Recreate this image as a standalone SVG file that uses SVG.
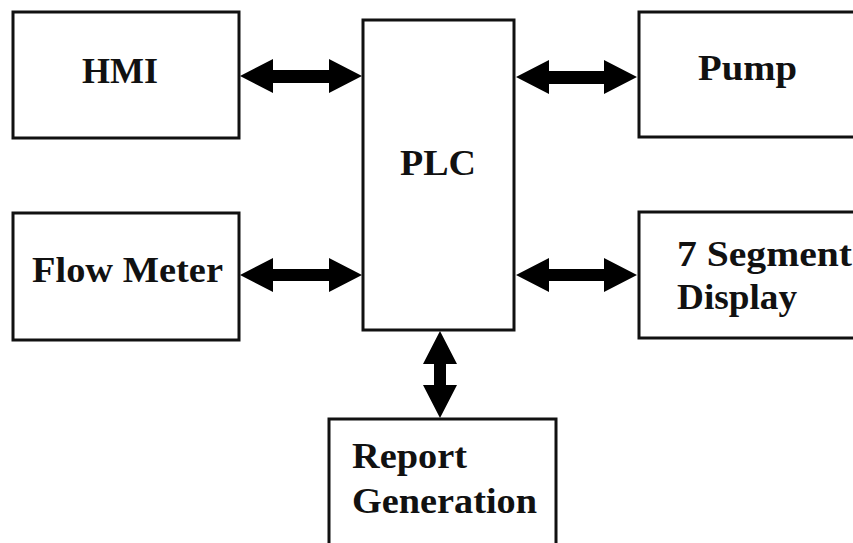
<svg xmlns="http://www.w3.org/2000/svg" width="853" height="543" viewBox="0 0 853 543">
<style>
.box{fill:#fff;stroke:#111;stroke-width:3}
.lbl{font-family:"Liberation Serif","Times New Roman",serif;font-weight:bold;font-size:35px;fill:#111}
.arr{fill:#000}
</style>
<rect x="0" y="0" width="853" height="543" fill="#fff"/>
<g id="hmi"><rect class="box" x="13" y="12" width="226" height="126"/><text class="lbl" x="82" y="83" textLength="76" lengthAdjust="spacingAndGlyphs">HMI</text></g>
<g id="flowmeter"><rect class="box" x="13" y="213" width="226" height="127"/><text class="lbl" x="32" y="282" textLength="191" lengthAdjust="spacingAndGlyphs">Flow Meter</text></g>
<g id="plc"><rect class="box" x="363" y="20" width="151" height="310"/><text class="lbl" x="400" y="175" textLength="76" lengthAdjust="spacingAndGlyphs">PLC</text></g>
<g id="pump"><rect class="box" x="639" y="12" width="230" height="125"/><text class="lbl" x="698" y="80" textLength="99" lengthAdjust="spacingAndGlyphs">Pump</text></g>
<g id="segment"><rect class="box" x="639" y="212" width="230" height="126"/><text class="lbl" x="677" y="266" textLength="175" lengthAdjust="spacingAndGlyphs">7 Segment</text><text class="lbl" x="677" y="309" textLength="120" lengthAdjust="spacingAndGlyphs">Display</text></g>
<g id="report"><rect class="box" x="329" y="419" width="227" height="140"/><text class="lbl" x="352" y="468" textLength="115" lengthAdjust="spacingAndGlyphs">Report</text><text class="lbl" x="352" y="513" textLength="185" lengthAdjust="spacingAndGlyphs">Generation</text></g>
<g id="connectors">
<polygon class="arr" points="240,76 273,59 273,70 329,70 329,59 362,76 329,93 329,83 273,83 273,93"/>
<polygon class="arr" points="240,275 273,258 273,269 329,269 329,258 362,275 329,292 329,281 273,281 273,292"/>
<polygon class="arr" points="516,77 549,60 549,71 604,71 604,60 637,77 604,94 604,84 549,84 549,94"/>
<polygon class="arr" points="516,275 549,258 549,269 604,269 604,258 637,275 604,292 604,281 549,281 549,292"/>
<polygon class="arr" points="440,331 457,364 446,364 446,385 457,385 440,418 423,385 434,385 434,364 423,364"/>
</g>
</svg>
